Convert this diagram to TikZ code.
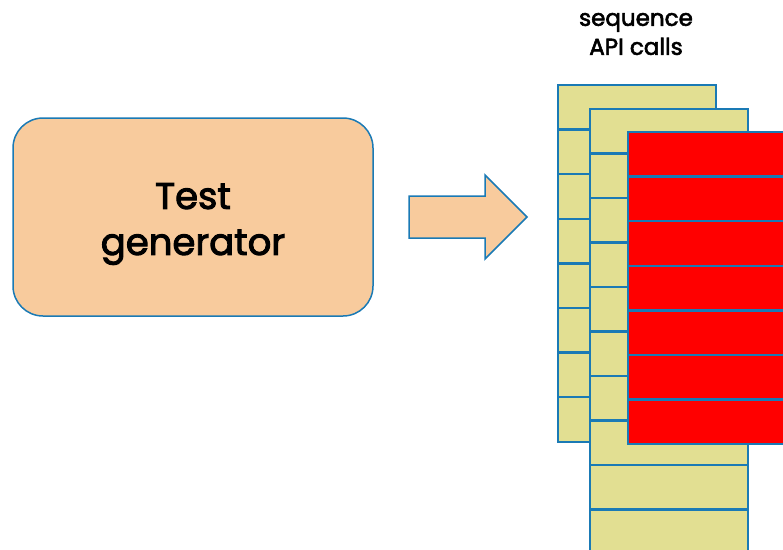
\documentclass[tikz,border=0pt]{standalone}
\usepackage{fontspec}
\setmainfont{Poppins}
\newfontfamily\medio{Poppins}[FakeBold=2.6]
\usetikzlibrary{positioning}

\definecolor{borda}{HTML}{1A7AB5}
\definecolor{pessego}{HTML}{F8CB9D}
\definecolor{palha}{HTML}{E2DF92}

\begin{document}
\begin{tikzpicture}[x=1pt, y=-1pt,
		cell/.style={draw=borda, line width=2.4pt, fill=palha},
		redcell/.style={draw=borda, line width=2.4pt, fill=red}]
		
		\useasboundingbox (0,0) rectangle (783,549);
		\clip (0,0) rectangle (783,549);
		
		% --- Caixa do gerador
		\node[draw=borda, line width=1.5pt, fill=pessego, rounded corners=30pt,
		minimum width=360pt, minimum height=198pt] (gen) at (193,217) {};
		\node[align=center, font=\medio\fontsize{37}{46}\selectfont]
		(gentext) at ([yshift=-7pt]gen.center) {Test\\generator};
		
		% Seta grande
		\draw[borda, line width=1.5pt, fill=pessego, line join=miter]
		(409,196) -- (485,196) -- (485,175) -- (527,217) -- (485,259)
		-- (485,238) -- (409,238) -- cycle;
		
		% --- Pilhas de chamadas (de tras para frente)
		\foreach \i in {0,...,7}
		\draw[cell] ({558},{85+44.6*\i}) rectangle +(158,44.6);
		
		\foreach \i in {0,...,9}
		\draw[cell] ({590},{109+44.5*\i}) rectangle +(158,44.5);
		
		\foreach \i in {0,...,6}
		\draw[redcell] ({628},{132+44.6*\i}) rectangle +(170,44.6);
		
		% Titulo das pilhas
		\node[align=center, font=\medio\fontsize{23}{29}\selectfont] (seq) at (636,34) {sequence\\API calls};
		
	\end{tikzpicture}
\end{document}
